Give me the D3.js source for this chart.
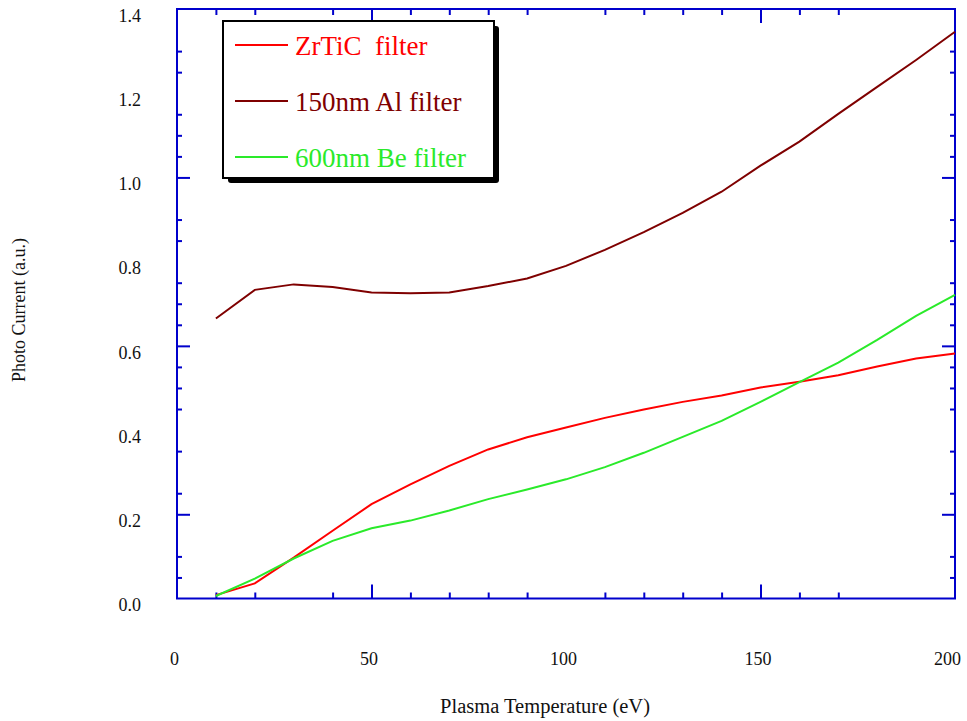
<!DOCTYPE html>
<html>
<head>
<meta charset="utf-8">
<script src="https://cdn.jsdelivr.net/npm/d3@7"></script>
<style>
  html, body { margin: 0; padding: 0; background: #fff; }
  svg { display: block; }
  text { font-family: "Liberation Serif", "Times New Roman", serif; }
</style>
</head>
<body>
<svg id="chart" width="967" height="721"></svg>
<script>
// ---- data ----
const temperature = [10, 20, 30, 40, 50, 60, 70, 80, 90, 100, 110, 120, 130, 140, 150, 160, 170, 180, 190, 200];
const zrticFilter = [0.008, 0.036, 0.097, 0.161, 0.224, 0.271, 0.315, 0.354, 0.383, 0.406, 0.429, 0.449, 0.467, 0.482, 0.501, 0.515, 0.530, 0.551, 0.570, 0.582];
const alFilter = [0.665, 0.733, 0.746, 0.740, 0.727, 0.725, 0.727, 0.742, 0.760, 0.790, 0.828, 0.870, 0.916, 0.966, 1.028, 1.085, 1.151, 1.215, 1.279, 1.346];
const beFilter = [0.006, 0.047, 0.095, 0.137, 0.167, 0.185, 0.209, 0.236, 0.259, 0.283, 0.312, 0.346, 0.384, 0.422, 0.467, 0.514, 0.560, 0.614, 0.671, 0.721];
const seriesNames = ["ZrTiC  filter", "150nm Al filter", "600nm Be filter"];
const xTickLabels = [0, 50, 100, 150, 200];
const yTickLabels = [0.0, 0.2, 0.4, 0.6, 0.8, 1.0, 1.2, 1.4];
const xMajorTicks = [50, 150];
const xMinorTicks = [10, 20, 40, 60, 70, 80, 90, 110, 120, 130, 140, 160, 170];
const yMajorTicks = [0.2, 0.6, 1.0];
const yMinorTicks = [0.05, 0.1, 0.25, 0.35, 0.45, 0.5, 0.55, 0.65, 0.7, 0.75, 0.85, 0.9, 1.05, 1.1, 1.15, 1.25, 1.3];
const xTitle = "Plasma Temperature (eV)";
const yTitle = "Photo Current (a.u.)";

// ---- layout ----
const svg = d3.select("#chart");
const pLeft = 177, pRight = 955, pTop = 9, pBottom = 598.5;
const axisColor = "#0000cc";
const colors = ["#ff0000", "#7f0000", "#2aea2a"];
const serif = "'Liberation Serif', 'Times New Roman', serif";

const x = d3.scaleLinear().domain([0, 200]).range([pLeft, pRight]);
const y = d3.scaleLinear().domain([0, 1.4]).range([pBottom, pTop]);

function styleAxis(g) {
  g.selectAll("path.domain").remove();
  g.selectAll(".tick line").attr("stroke", axisColor).attr("stroke-width", 2);
  g.selectAll(".tick text").remove();
}

// minor & major ticks on all four sides
svg.append("g").attr("transform", `translate(0,${pBottom})`)
  .call(d3.axisBottom(x).tickValues(xMinorTicks).tickSize(-6)).call(styleAxis);
svg.append("g").attr("transform", `translate(0,${pBottom})`)
  .call(d3.axisBottom(x).tickValues(xMajorTicks).tickSize(-14)).call(styleAxis);
svg.append("g").attr("transform", `translate(0,${pTop})`)
  .call(d3.axisTop(x).tickValues(xMinorTicks).tickSize(-6)).call(styleAxis);
svg.append("g").attr("transform", `translate(0,${pTop})`)
  .call(d3.axisTop(x).tickValues(xMajorTicks).tickSize(-14)).call(styleAxis);
svg.append("g").attr("transform", `translate(${pLeft},0)`)
  .call(d3.axisLeft(y).tickValues(yMinorTicks).tickSize(-5)).call(styleAxis);
svg.append("g").attr("transform", `translate(${pLeft},0)`)
  .call(d3.axisLeft(y).tickValues(yMajorTicks).tickSize(-13)).call(styleAxis);
svg.append("g").attr("transform", `translate(${pRight},0)`)
  .call(d3.axisRight(y).tickValues(yMinorTicks).tickSize(-5)).call(styleAxis);
svg.append("g").attr("transform", `translate(${pRight},0)`)
  .call(d3.axisRight(y).tickValues(yMajorTicks).tickSize(-13)).call(styleAxis);

// frame
svg.append("rect")
  .attr("x", pLeft).attr("y", pTop)
  .attr("width", pRight - pLeft).attr("height", pBottom - pTop)
  .attr("fill", "none").attr("stroke", axisColor).attr("stroke-width", 2);

// tick labels
const xLab = svg.append("g").attr("transform", `translate(0,${pBottom})`)
  .call(d3.axisBottom(x).tickValues(xTickLabels).tickSize(0).tickPadding(54).tickFormat(d3.format("d")));
xLab.select("path.domain").remove();
xLab.selectAll(".tick text")
  .style("font-family", serif).style("font-size", "18px").attr("fill", "#111")
  .attr("dx", (d, i) => i === xTickLabels.length - 1 ? -8 : -3);

const yLab = svg.append("g").attr("transform", `translate(${pLeft},0)`)
  .call(d3.axisLeft(y).tickValues(yTickLabels).tickSize(0).tickPadding(36).tickFormat(d3.format(".1f")));
yLab.select("path.domain").remove();
yLab.selectAll(".tick text")
  .style("font-family", serif).style("font-size", "18px").attr("fill", "#111")
  .attr("dy", "0.68em");

// axis titles
svg.append("text")
  .attr("x", 545).attr("y", 713)
  .attr("text-anchor", "middle").style("font-family", serif).style("font-size", "20.5px").attr("fill", "#111")
  .text(xTitle);
svg.append("text")
  .attr("transform", "translate(25,310) rotate(-90)")
  .attr("text-anchor", "middle").style("font-family", serif).style("font-size", "18px").attr("fill", "#111")
  .text(yTitle);

// lines
const allSeries = [zrticFilter, alFilter, beFilter];
const line = d3.line().x(d => x(d[0])).y(d => y(d[1]));
allSeries.forEach((vals, i) => {
  svg.append("path")
    .datum(temperature.map((t, j) => [t, vals[j]]))
    .attr("d", line)
    .attr("fill", "none")
    .attr("stroke", colors[i])
    .attr("stroke-width", 2);
});

// legend
const lg = svg.append("g");
const lx = 223, ly = 21, lw = 271, lh = 157;
lg.append("rect").attr("x", lx + 5).attr("y", ly + 5).attr("width", lw).attr("height", lh)
  .attr("rx", 3).attr("fill", "#000");
lg.append("rect").attr("x", lx).attr("y", ly).attr("width", lw).attr("height", lh)
  .attr("fill", "#fff").attr("stroke", "#000").attr("stroke-width", 2);
const rowY = [45, 101, 157];
seriesNames.forEach((name, i) => {
  lg.append("line").attr("x1", 235).attr("x2", 288).attr("y1", rowY[i]).attr("y2", rowY[i])
    .attr("stroke", colors[i]).attr("stroke-width", 2);
  lg.append("text").attr("x", 295).attr("y", rowY[i] + 10)
    .style("font-family", serif).style("font-size", "27px").attr("fill", colors[i])
    .style("white-space", "pre")
    .text(name);
});
</script>
</body>
</html>
